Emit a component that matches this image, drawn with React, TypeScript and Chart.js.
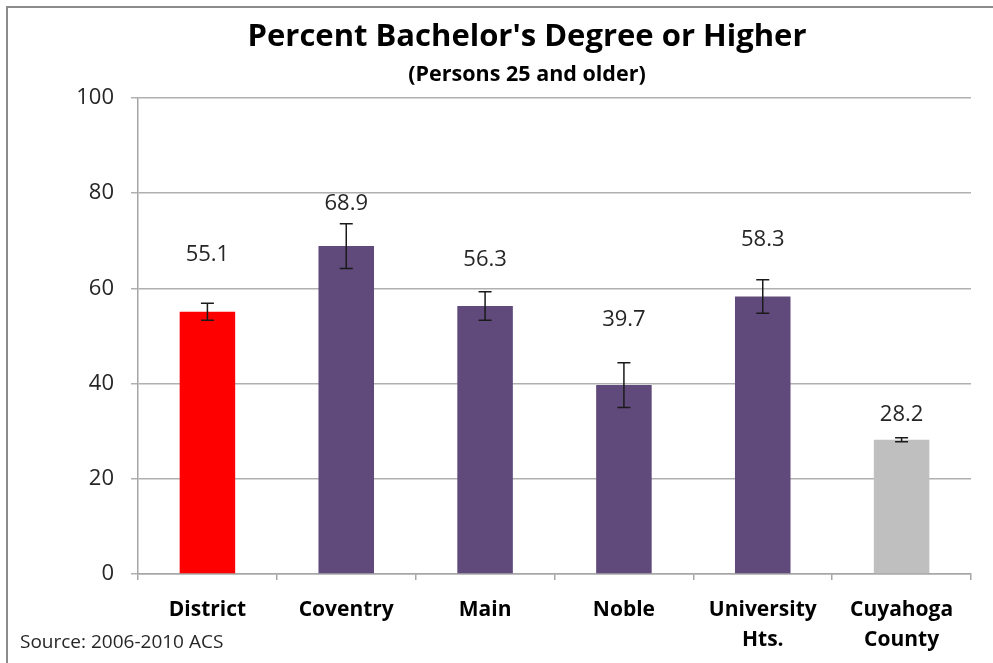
import React, { useEffect, useRef } from "react";
import { Chart, registerables } from "chart.js";

Chart.register(...registerables);

const categories: (string | string[])[] = [
  "District",
  "Coventry",
  "Main",
  "Noble",
  ["University", "Hts."],
  ["Cuyahoga", "County"],
];
const values = [55.1, 68.9, 56.3, 39.7, 58.3, 28.2];
const errors = [1.8, 4.7, 3.0, 4.7, 3.5, 0.4];
const barColors = ["#ff0000", "#604a7b", "#604a7b", "#604a7b", "#604a7b", "#bfbfbf"];
const yTicks = [0, 20, 40, 60, 80, 100];
const titleText = "Percent Bachelor's Degree or Higher";
const subtitleText = "(Persons 25 and older)";
const sourceText = "Source: 2006-2010 ACS";
// label anchor heights (in axis units) as placed in the original
const labelAt = [67.0, 77.8, 66.0, 53.4, 70.2, 33.4];

const FONT = "'Open Sans', Lato, sans-serif";

const errorBarPlugin = {
  id: "errorBars",
  afterDatasetsDraw(chart: any) {
    const ctx = chart.ctx;
    const meta = chart.getDatasetMeta(0);
    const y = chart.scales.y;
    ctx.save();
    ctx.strokeStyle = "#1a1a1a";
    ctx.lineWidth = 1.5;
    meta.data.forEach((bar: any, i: number) => {
      const x = bar.x;
      const top = y.getPixelForValue(values[i] + errors[i]);
      const bot = y.getPixelForValue(values[i] - errors[i]);
      const cap = 6.5;
      ctx.beginPath();
      ctx.moveTo(x, top);
      ctx.lineTo(x, bot);
      ctx.moveTo(x - cap, top);
      ctx.lineTo(x + cap, top);
      ctx.moveTo(x - cap, bot);
      ctx.lineTo(x + cap, bot);
      ctx.stroke();
    });
    ctx.fillStyle = "#262626";
    ctx.font = `22px ${FONT}`;
    ctx.textAlign = "center";
    ctx.textBaseline = "middle";
    meta.data.forEach((bar: any, i: number) => {
      ctx.fillText(values[i].toFixed(1), bar.x, y.getPixelForValue(labelAt[i]));
    });
    ctx.restore();
  },
};

const textPlugin = {
  id: "texts",
  afterDraw(chart: any) {
    const ctx = chart.ctx;
    ctx.save();
    ctx.fillStyle = "#000";
    ctx.textAlign = "center";
    ctx.textBaseline = "middle";
    ctx.font = `bold 31px ${FONT}`;
    ctx.fillText(titleText, 527, 37);
    ctx.font = `bold 21.5px ${FONT}`;
    ctx.fillText(subtitleText, 527, 75);
    ctx.textAlign = "left";
    ctx.fillStyle = "#262626";
    ctx.font = `19px ${FONT}`;
    ctx.fillText(sourceText, 20, 643);
    ctx.restore();
  },
};

export default function App() {
  const ref = useRef<HTMLCanvasElement>(null);
  useEffect(() => {
    if (!ref.current) return;
    const chart = new Chart(ref.current, {
      type: "bar",
      data: {
        labels: categories,
        datasets: [
          {
            data: values,
            backgroundColor: barColors,
            borderWidth: 0,
            categoryPercentage: 1,
            barPercentage: 0.4,
          },
        ],
      },
      options: {
        animation: false,
        responsive: false,
        devicePixelRatio: 1,
        layout: { padding: { top: 98, right: 22, bottom: 0, left: 0 } },
        plugins: {
          legend: { display: false },
          title: { display: false },
          tooltip: { enabled: false },
        },
        scales: {
          x: {
            grid: {
              display: true,
              drawOnChartArea: false,
              drawTicks: true,
              tickLength: 6,
              color: "#a6a6a6",
              lineWidth: 1.5,
            },
            border: { display: true, color: "#a6a6a6", width: 1.5 },
            ticks: {
              color: "#000",
              font: { family: FONT, size: 21, weight: "bold", lineHeight: "30px" },
              padding: 15,
              maxRotation: 0,
              autoSkip: false,
            },
            afterFit(scale: any) {
              scale.height = 89;
            },
          },
          y: {
            min: 0,
            max: 100,
            afterBuildTicks(scale: any) {
              scale.ticks = yTicks.map((v) => ({ value: v }));
            },
            grid: {
              color: "#b0b0b0",
              lineWidth: 1.5,
              tickLength: 7,
            },
            border: { display: true, color: "#a6a6a6", width: 1.5 },
            ticks: {
              color: "#262626",
              font: { family: FONT, size: 22 },
              padding: 17,
            },
            afterFit(scale: any) {
              scale.width = 138;
            },
          },
        },
      },
      plugins: [errorBarPlugin, textPlugin],
    });
    return () => chart.destroy();
  }, []);

  return (
    <div
      style={{
        position: "absolute",
        left: 0,
        top: 0,
        width: 993,
        height: 663,
        overflow: "hidden",
        background: "#fff",
      }}
    >
      <div
        style={{
          position: "absolute",
          left: 6,
          top: 6,
          width: 1100,
          height: 800,
          border: "2px solid #8c8c8c",
          boxSizing: "border-box",
        }}
      />
      <canvas ref={ref} width={993} height={663} style={{ position: "absolute", left: 0, top: 0 }} />
    </div>
  );
}
